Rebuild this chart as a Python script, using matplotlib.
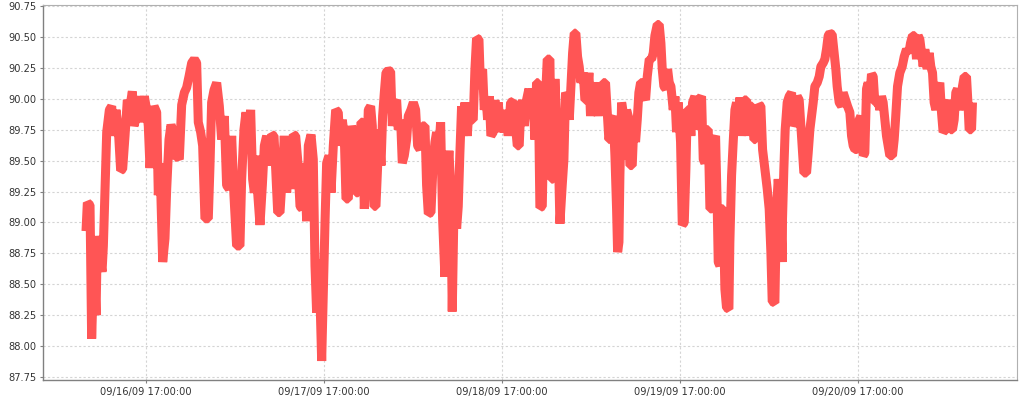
import datetime as dt
import matplotlib
matplotlib.use("Agg")
from matplotlib import pyplot as plt
import matplotlib.dates as mdates

# hours since 09/16/09 00:00
hours = [8.91, 9.09, 9.45, 9.67, 9.99, 10.26, 10.44, 10.71, 11.07, 11.25, 11.47, 11.70,
         12.06, 12.37, 12.59, 12.95, 13.27, 13.58, 13.85, 14.17, 14.48, 14.84, 15.16, 15.38,
         15.74, 16.10, 16.41, 16.77, 17.09, 17.31, 17.54, 17.76, 18.08, 18.44, 18.66, 18.89,
         19.25, 19.56, 19.79, 20.10, 20.37, 20.68, 20.82, 21.13, 21.49, 21.81, 22.17, 22.48,
         22.80, 23.16, 23.52, 23.83, 24.05, 24.37, 24.64, 24.95, 25.40, 25.63, 25.85, 26.17,
         26.53, 26.89, 27.20, 27.56, 27.87, 28.23, 28.55, 28.86, 29.22, 29.67, 29.90, 30.21,
         30.48, 30.80, 31.11, 31.38, 31.61, 31.92,
         32.06, 32.37, 32.69, 32.96, 33.27, 33.58, 33.94, 34.26, 34.49, 34.76, 35.07, 35.38,
         35.65, 35.97, 36.19, 36.55, 36.87, 37.18, 37.45, 37.77, 38.08, 38.35, 38.67, 38.89,
         39.25, 39.56, 39.79, 40.01, 40.33, 40.69, 40.91, 41.14, 41.36, 41.68, 41.95, 42.26,
         42.58, 42.93, 43.16, 43.47, 43.74, 43.97, 44.28, 44.51, 44.73, 45.05, 45.32, 45.63,
         45.99, 46.22, 46.44, 46.76, 46.98, 47.29, 47.52, 47.74, 48.01, 48.24, 48.42, 48.69,
         48.91, 49.14, 49.36, 49.68, 49.99, 50.22, 50.57, 50.80, 51.02, 51.34, 51.56, 51.83,
         52.15, 52.37, 52.73, 53.05, 53.36, 53.63, 53.95, 54.26, 54.62, 54.84, 55.07, 55.43,
         55.74, 55.97,
         56.19, 56.41, 56.73, 57.00, 57.31, 57.54, 57.85, 58.08, 58.30, 58.57, 58.89, 59.11,
         59.33, 59.56, 59.78, 60.01, 60.32, 60.59, 60.91, 61.13, 61.36, 61.58, 61.90, 62.12,
         62.39, 62.62, 62.84, 63.07, 63.29, 63.51, 63.83, 64.05, 64.28, 64.50, 64.82, 65.09,
         65.31, 65.63, 65.85, 66.17, 66.53, 66.75, 67.07, 67.33, 67.52, 67.78, 68.01, 68.32,
         68.64, 68.91, 69.13, 69.45, 69.67, 69.90, 70.12, 70.44, 70.66, 70.89, 71.11, 71.47,
         71.69, 71.92, 72.14, 72.37, 72.59, 72.82, 73.13, 73.36, 73.58, 73.85, 74.08, 74.30,
         74.53, 74.75, 74.97, 75.20, 75.42, 75.65, 75.96, 76.19, 76.41, 76.73, 76.95, 77.18,
         77.40, 77.67, 77.99, 78.21, 78.43, 78.66, 78.97, 79.20, 79.42,
         79.47, 79.70, 80.01, 80.24, 80.46, 80.60, 80.78, 80.91, 81.14, 81.36, 81.59, 81.81,
         82.03, 82.26, 82.57, 82.84, 83.02, 83.25, 83.47, 83.70, 83.92, 84.15, 84.37, 84.60,
         84.87, 85.18, 85.41, 85.63, 85.95, 86.21, 86.44, 86.62, 86.84, 87.11, 87.34, 87.56,
         87.79, 88.10, 88.33, 88.55, 88.78, 89.09, 89.32, 89.59, 89.81, 89.99, 90.21, 90.48,
         90.71, 91.02, 91.34, 91.56, 91.92, 92.15, 92.37, 92.60, 92.82, 93.05, 93.36, 93.59,
         93.81, 94.03, 94.17, 94.39, 94.62, 94.84, 95.07, 95.29, 95.61, 95.74, 95.97, 96.19,
         96.42, 96.64, 96.87, 97.09, 97.32, 97.67, 97.99, 98.21, 98.44, 98.75, 98.98, 99.20,
         99.47, 99.70, 99.92, 100.15, 100.46, 100.78, 101.04, 101.27, 101.45, 101.81, 102.03,
         102.26, 102.57, 102.80,
         102.84, 103.02, 103.20, 103.47, 103.74, 104.06, 104.28, 104.51, 104.82, 105.09,
         105.40, 105.72, 106.08, 106.30, 106.53, 106.75, 106.98, 107.20, 107.52, 107.79,
         108.01, 108.33, 108.55, 108.77, 109.00, 109.22, 109.54, 109.81, 110.03, 110.21,
         110.48, 110.80, 111.02, 111.34, 111.61, 111.92, 112.15, 112.37, 112.60, 112.91,
         113.18, 113.40, 113.72, 113.94, 114.17, 114.39, 114.62, 114.84, 115.07, 115.29,
         115.51, 115.74, 115.96, 116.19, 116.41, 116.64, 116.86, 117.09, 117.31, 117.67,
         117.90, 118.08, 118.35, 118.66, 118.98, 119.25, 119.56, 119.88, 120.10, 120.37,
         120.68, 120.91, 121.13, 121.36, 121.58, 121.81, 122.03, 122.35, 122.62, 122.84,
         123.07, 123.29, 123.52, 123.83, 124.05, 124.28, 124.50, 124.82, 125.04, 125.27,
         125.49, 125.76, 125.99, 126.21, 126.44, 126.66, 126.89, 127.11, 127.34, 127.65,
         127.87, 128.01, 128.33, 128.46]

values = [88.93, 89.16, 89.14, 88.06, 88.73, 88.25, 88.89, 88.76, 88.60, 88.81, 89.27, 89.73,
          89.91, 89.94, 89.70, 89.91, 89.75, 89.42, 89.43, 89.70, 89.99, 89.94, 90.06, 89.78,
          89.86, 90.02, 89.81, 90.02, 89.91, 89.78, 89.44, 89.67, 89.94, 89.89, 89.22, 89.48,
          88.68, 88.87, 89.27, 89.67, 89.79, 89.73, 89.52, 89.54, 89.51, 89.95, 90.05, 90.09,
          90.18, 90.29, 90.32, 90.29, 89.81, 89.73, 89.62, 89.03, 89.03, 89.46, 89.97, 90.07,
          90.13, 89.94, 89.67, 89.86, 89.30, 89.27, 89.70, 89.22, 88.81, 88.81, 89.35, 89.75,
          89.89, 89.70, 89.91, 89.35, 89.24, 89.54,
          89.24, 88.98, 89.30, 89.62, 89.70, 89.46, 89.71, 89.70, 89.43, 89.08, 89.08, 89.38,
          89.70, 89.24, 89.67, 89.27, 89.71, 89.70, 89.51, 89.13, 89.11, 89.48, 89.01, 89.62,
          89.71, 89.51, 88.65, 88.27, 88.70, 87.88, 88.44, 89.00, 89.48, 89.54, 89.24, 89.62,
          89.91, 89.89, 89.62, 89.83, 89.70, 89.19, 89.19, 89.51, 89.78, 89.70, 89.24, 89.24,
          89.81, 89.81, 89.11, 89.51, 89.91, 89.94, 89.78, 89.13, 89.13, 89.46, 89.75, 89.46,
          89.86, 90.05, 90.21, 90.23, 90.22, 89.78, 89.97, 89.99, 89.75, 89.83, 89.48, 89.54,
          89.67, 89.86, 89.91, 89.97, 89.91, 89.62, 89.59, 89.78, 89.78, 89.30, 89.07, 89.08,
          89.51, 89.65,
          89.73, 89.51, 89.81, 89.03, 88.56, 89.30, 89.58, 89.30, 88.28, 89.24, 88.95, 89.13,
          89.56, 89.94, 89.70, 89.97, 89.70, 89.94, 89.83, 89.83, 90.24, 90.49, 90.48, 90.08,
          90.24, 89.91, 90.02, 89.83, 90.02, 89.70, 89.73, 89.99, 89.75, 89.97, 89.73, 89.91,
          89.73, 89.89, 89.70, 89.97, 89.98, 89.83, 89.62, 89.62, 89.89, 89.99, 89.78, 89.99,
          90.08, 89.91, 90.08, 89.67, 90.13, 90.13, 89.12, 89.13, 89.83, 90.02, 90.32, 90.32,
          89.35, 89.35, 90.16, 89.83, 89.62, 88.99, 89.30, 89.51, 90.05, 90.02, 89.83, 90.10,
          90.37, 90.53, 90.53, 90.34, 90.26, 90.13, 90.21, 89.99, 89.99, 90.21, 89.86, 90.13,
          90.05, 90.13, 89.86, 90.13, 89.91, 90.13, 90.13, 89.89, 89.67,
          89.67, 89.83, 89.86, 89.54, 89.11, 88.76, 88.84, 89.38, 89.97, 89.89, 89.51, 89.91,
          89.86, 89.46, 89.46, 89.86, 89.65, 89.83, 90.05, 90.13, 90.13, 90.02, 89.99, 90.18,
          90.32, 90.32, 90.37, 90.51, 90.60, 90.60, 90.45, 90.24, 90.10, 90.08, 90.24, 90.13,
          90.10, 89.91, 90.02, 89.73, 89.97, 89.65, 88.98, 89.00, 89.43, 89.91, 89.91, 89.70,
          89.97, 90.02, 89.75, 89.99, 90.02, 89.51, 89.48, 89.75, 89.75, 89.11, 89.11, 89.67,
          89.70, 89.14, 88.68, 88.65, 89.11, 89.11, 88.46, 88.31, 88.30, 88.84, 89.38, 89.65,
          89.91, 89.97, 89.73, 90.01, 89.70, 89.99, 89.99, 89.70, 89.94, 89.94, 89.67, 89.67,
          89.86, 89.95, 89.94, 89.59, 89.43, 89.27, 89.11, 88.76, 88.36, 88.35, 89.11,
          89.35, 89.11, 88.68,
          89.03, 89.43, 89.75, 89.97, 90.02, 90.05, 89.78, 89.81, 90.02, 89.99,
          89.70, 89.40, 89.40, 89.56, 89.75, 89.86, 89.97, 90.10, 90.13, 90.18,
          90.26, 90.29, 90.32, 90.40, 90.51, 90.53, 90.52, 90.37, 90.24, 90.10,
          89.97, 89.94, 90.05, 89.99, 89.94, 89.89, 89.70, 89.62, 89.59, 89.59,
          89.83, 89.86, 89.54, 89.56, 90.08, 90.13, 90.02, 90.20, 90.18, 89.97,
          89.97, 89.99, 89.91, 90.02, 89.97, 89.83, 89.70, 89.62, 89.54, 89.54,
          89.67, 89.83, 90.10, 90.21, 90.26, 90.34, 90.40, 90.37, 90.45, 90.51,
          90.51, 90.32, 90.51, 90.48, 90.37, 90.26, 90.40, 90.24, 90.37, 90.26,
          90.21, 89.97, 89.91, 90.08, 90.13, 89.89, 89.73, 89.75, 89.94, 89.99,
          89.75, 89.75, 89.83, 90.05, 90.08, 89.91, 89.97, 90.10, 90.18, 90.18,
          89.94, 89.75, 89.75, 89.97]

tick_hours = [17, 41, 65, 89, 113]
y_ticks = [87.75, 88.00, 88.25, 88.50, 88.75, 89.00, 89.25, 89.50, 89.75,
           90.00, 90.25, 90.50, 90.75]

start = dt.datetime(2009, 9, 16, 0, 0, 0)
times = [start + dt.timedelta(hours=h) for h in hours]
tick_times = [start + dt.timedelta(hours=h) for h in tick_hours]

fig = plt.figure(figsize=(10.24, 4.0), dpi=100)
ax = fig.add_axes([0.042, 0.05, 0.951, 0.9375])

ax.plot(times, values, color='#ff5555', lw=6.5, solid_joinstyle='bevel',
        solid_capstyle='butt', zorder=3)

ax.set_xlim(start + dt.timedelta(hours=3.11), start + dt.timedelta(hours=134.44))
ax.set_ylim(87.726, 90.758)
ax.set_yticks(y_ticks)
ax.set_yticklabels(['%.2f' % v for v in y_ticks])
ax.set_xticks(tick_times)
ax.xaxis.set_major_formatter(mdates.DateFormatter('%m/%d/%y %H:%M:%S'))

ax.grid(True, color='#d4d4d4', linestyle=(0, (2, 2)), linewidth=0.8, zorder=0)
ax.set_axisbelow(True)

for side in ['top', 'right']:
    ax.spines[side].set_color('#b0b0b0')
    ax.spines[side].set_linewidth(0.8)
for side in ['left', 'bottom']:
    ax.spines[side].set_color('#808080')
    ax.spines[side].set_linewidth(1.0)

ax.tick_params(axis='both', direction='out', length=2, width=0.8, color='#808080',
               labelsize=7.1, labelcolor='#333333', pad=3)

fig.savefig('out.png', dpi=100)
